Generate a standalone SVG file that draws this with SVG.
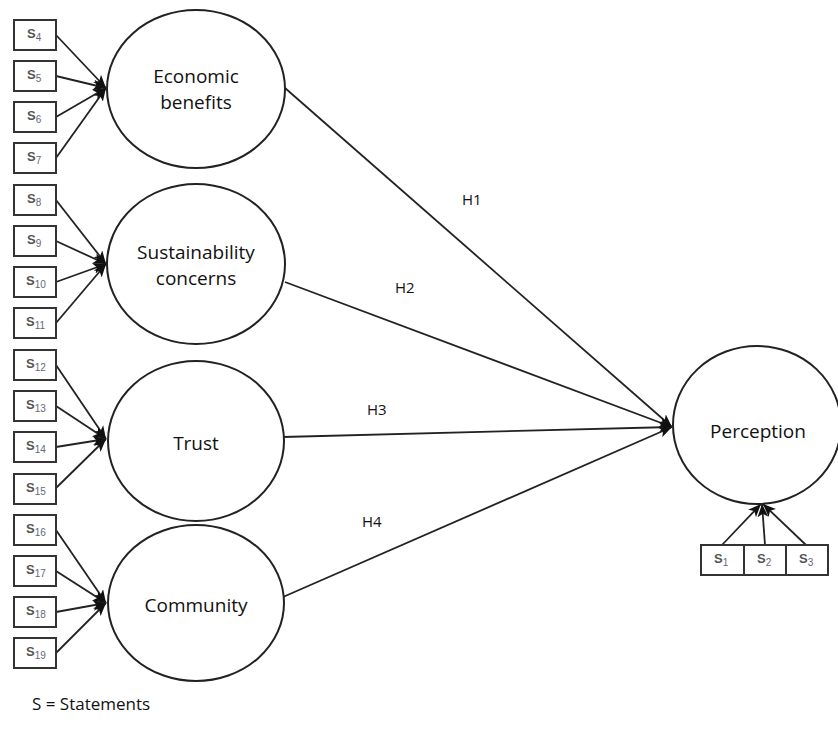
<svg xmlns="http://www.w3.org/2000/svg" width="838" height="742" viewBox="0 0 838 742">
<defs>
<marker id="ah" viewBox="0 0 12 10" refX="12" refY="5" markerWidth="13" markerHeight="11" markerUnits="userSpaceOnUse" orient="auto">
<path d="M0,0 L12,5 L0,10 L3,5 Z" fill="#111"/>
</marker>
</defs>
<style>
.box{fill:#fff;stroke:#333;stroke-width:2}
.ell{fill:#fff;stroke:#222;stroke-width:2}
.s{font-family:"Liberation Sans",Arial,sans-serif;font-size:13px;font-weight:bold;fill:#555}
.sub{font-size:10px;font-weight:normal;fill:#667}
.lab{font-family:"Open Sans","Noto Sans",sans-serif;font-size:19px;fill:#111;text-anchor:middle}
.h{font-family:"Open Sans","Noto Sans",sans-serif;font-size:15px;fill:#111}
.c{fill:none;stroke:#222;stroke-width:1.8;marker-end:url(#ah)}
</style>
<rect width="838" height="742" fill="#fff"/>
<g id="connectors">
<line class="c" x1="56" y1="35" x2="106" y2="88"/>
<line class="c" x1="56" y1="76" x2="106" y2="88"/>
<line class="c" x1="56" y1="117" x2="106" y2="88"/>
<line class="c" x1="56" y1="158" x2="106" y2="88"/>
<line class="c" x1="56" y1="200" x2="106" y2="264"/>
<line class="c" x1="56" y1="241" x2="106" y2="264"/>
<line class="c" x1="56" y1="282" x2="106" y2="264"/>
<line class="c" x1="56" y1="323" x2="106" y2="264"/>
<line class="c" x1="56" y1="365" x2="106" y2="439"/>
<line class="c" x1="56" y1="406" x2="106" y2="439"/>
<line class="c" x1="56" y1="447" x2="106" y2="439"/>
<line class="c" x1="56" y1="488" x2="106" y2="439"/>
<line class="c" x1="56" y1="530" x2="106" y2="603"/>
<line class="c" x1="56" y1="571" x2="106" y2="603"/>
<line class="c" x1="56" y1="612" x2="106" y2="603"/>
<line class="c" x1="56" y1="653" x2="106" y2="603"/>
<line class="c" x1="285" y1="88" x2="672" y2="427"/>
<line class="c" x1="285" y1="282" x2="672" y2="427"/>
<line class="c" x1="283" y1="437" x2="672" y2="427"/>
<line class="c" x1="283" y1="597" x2="672" y2="427"/>
<line class="c" x1="722" y1="545" x2="761" y2="504"/>
<line class="c" x1="765" y1="545" x2="762" y2="504"/>
<line class="c" x1="806" y1="545" x2="763" y2="504"/>
<text class="h" x="462" y="205">H1</text>
<text class="h" x="395" y="293">H2</text>
<text class="h" x="367" y="415">H3</text>
<text class="h" x="362" y="527">H4</text>
</g>
<g id="econ"><ellipse class="ell" cx="196" cy="89" rx="89" ry="79"/><text class="lab" x="196" y="83">Economic</text><text class="lab" x="196" y="109">benefits</text></g>
<g id="sust"><ellipse class="ell" cx="196" cy="264" rx="89" ry="80"/><text class="lab" x="196" y="259">Sustainability</text><text class="lab" x="196" y="285">concerns</text></g>
<g id="trust"><ellipse class="ell" cx="196" cy="441" rx="88" ry="80"/><text class="lab" x="196" y="450">Trust</text></g>
<g id="community"><ellipse class="ell" cx="196" cy="603" rx="88" ry="78"/><text class="lab" x="196" y="612">Community</text></g>
<g id="perception"><ellipse class="ell" cx="757" cy="425" rx="84" ry="79"/><text class="lab" x="758" y="438">Perception</text></g>
<g id="s4"><rect class="box" x="14" y="20" width="42" height="30"/><text class="s" x="27" y="38">S<tspan class="sub" dy="3">4</tspan></text></g>
<g id="s5"><rect class="box" x="14" y="61" width="42" height="30"/><text class="s" x="27" y="79">S<tspan class="sub" dy="3">5</tspan></text></g>
<g id="s6"><rect class="box" x="14" y="102" width="42" height="30"/><text class="s" x="27" y="120">S<tspan class="sub" dy="3">6</tspan></text></g>
<g id="s7"><rect class="box" x="14" y="143" width="42" height="30"/><text class="s" x="27" y="161">S<tspan class="sub" dy="3">7</tspan></text></g>
<g id="s8"><rect class="box" x="14" y="185" width="42" height="30"/><text class="s" x="27" y="203">S<tspan class="sub" dy="3">8</tspan></text></g>
<g id="s9"><rect class="box" x="14" y="226" width="42" height="30"/><text class="s" x="27" y="244">S<tspan class="sub" dy="3">9</tspan></text></g>
<g id="s10"><rect class="box" x="14" y="267" width="42" height="30"/><text class="s" x="26" y="285">S<tspan class="sub" dy="3">10</tspan></text></g>
<g id="s11"><rect class="box" x="14" y="308" width="42" height="30"/><text class="s" x="26" y="326">S<tspan class="sub" dy="3">11</tspan></text></g>
<g id="s12"><rect class="box" x="14" y="350" width="42" height="30"/><text class="s" x="26" y="368">S<tspan class="sub" dy="3">12</tspan></text></g>
<g id="s13"><rect class="box" x="14" y="391" width="42" height="30"/><text class="s" x="26" y="409">S<tspan class="sub" dy="3">13</tspan></text></g>
<g id="s14"><rect class="box" x="14" y="432" width="42" height="30"/><text class="s" x="26" y="450">S<tspan class="sub" dy="3">14</tspan></text></g>
<g id="s15"><rect class="box" x="14" y="474" width="42" height="30"/><text class="s" x="26" y="492">S<tspan class="sub" dy="3">15</tspan></text></g>
<g id="s16"><rect class="box" x="14" y="515" width="42" height="30"/><text class="s" x="26" y="533">S<tspan class="sub" dy="3">16</tspan></text></g>
<g id="s17"><rect class="box" x="14" y="556" width="42" height="30"/><text class="s" x="26" y="574">S<tspan class="sub" dy="3">17</tspan></text></g>
<g id="s18"><rect class="box" x="14" y="597" width="42" height="30"/><text class="s" x="26" y="615">S<tspan class="sub" dy="3">18</tspan></text></g>
<g id="s19"><rect class="box" x="14" y="638" width="42" height="30"/><text class="s" x="26" y="656">S<tspan class="sub" dy="3">19</tspan></text></g>
<g id="s1"><rect class="box" x="701" y="545" width="43" height="30"/><text class="s" x="714" y="563">S<tspan class="sub" dy="3">1</tspan></text></g>
<g id="s2"><rect class="box" x="744" y="545" width="42" height="30"/><text class="s" x="757" y="563">S<tspan class="sub" dy="3">2</tspan></text></g>
<g id="s3"><rect class="box" x="786" y="545" width="42" height="30"/><text class="s" x="799" y="563">S<tspan class="sub" dy="3">3</tspan></text></g>
<text class="h" x="32" y="710" style="font-size:17px">S = Statements</text>
</svg>
